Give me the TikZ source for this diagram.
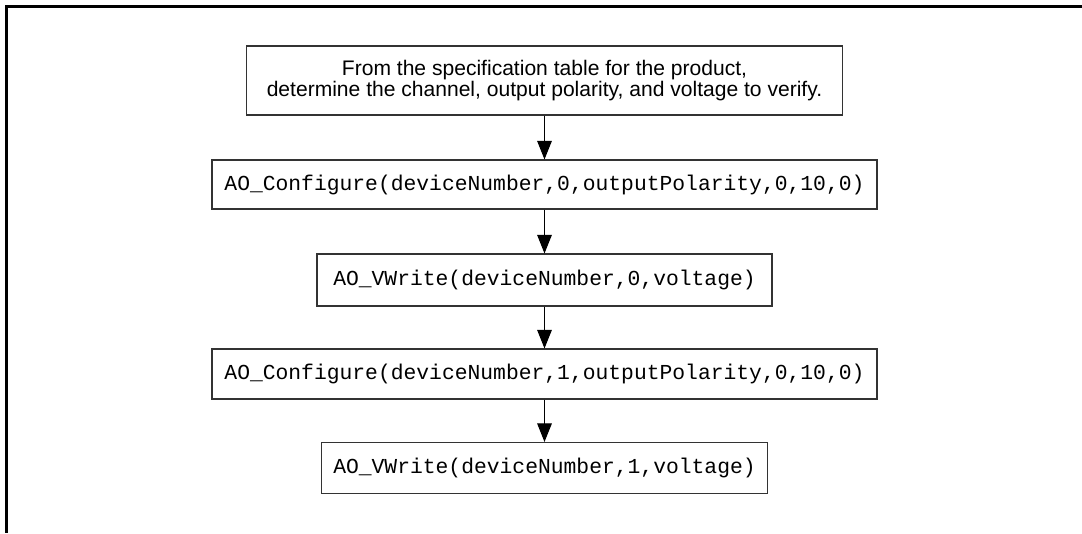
\documentclass[tikz,border=0pt]{standalone}
\usepackage{fontspec}
\setmainfont{Liberation Sans}
\setmonofont{Liberation Mono}
\usetikzlibrary{arrows.meta}
\tikzset{
  stepbox/.style={draw=black!80, line width=0.8pt, inner sep=0pt, align=center, anchor=center},
  codebox/.style={stepbox, font=\ttfamily\fontsize{16}{19}\selectfont},
  textbox/.style={stepbox, font=\fontsize{15.8}{15.8}\selectfont},
  flow/.style={draw=black, line width=0.8pt, -{Triangle[length=14pt,width=11pt]}},
  frameline/.style={draw=black, line width=2.3pt}
}
\begin{document}
\begin{tikzpicture}[x=0.75pt,y=-0.75pt]
\useasboundingbox (0,0) rectangle (1082,533);
\coordinate (fr1) at (1082,6.5);
\coordinate (fr2) at (6.5,533);
\draw[frameline] (fr1) -| (fr2);
\node[textbox, minimum width=596*0.75pt, minimum height=69*0.75pt] (b1) at (544.5,80.5)
  {From the specification table for the product,\\determine the channel, output polarity, and voltage to verify.};
\node[codebox, minimum width=665*0.75pt, minimum height=49*0.75pt] (b2) at (544.5,184.5)
  {AO\_Configure(deviceNumber,0,outputPolarity,0,10,0)};
\node[codebox, minimum width=455*0.75pt, minimum height=52*0.75pt] (b3) at (544.5,280)
  {AO\_VWrite(deviceNumber,0,voltage)};
\node[codebox, minimum width=665*0.75pt, minimum height=50*0.75pt] (b4) at (544.5,374)
  {AO\_Configure(deviceNumber,1,outputPolarity,0,10,0)};
\node[codebox, minimum width=446*0.75pt, minimum height=51*0.75pt] (b5) at (544.5,468)
  {AO\_VWrite(deviceNumber,1,voltage)};
\draw[flow] (b1.south) -- (b2.north);
\draw[flow] (b2.south) -- (b3.north);
\draw[flow] (b3.south) -- (b4.north);
\draw[flow] (b4.south) -- (b5.north);
\end{tikzpicture}
\end{document}
